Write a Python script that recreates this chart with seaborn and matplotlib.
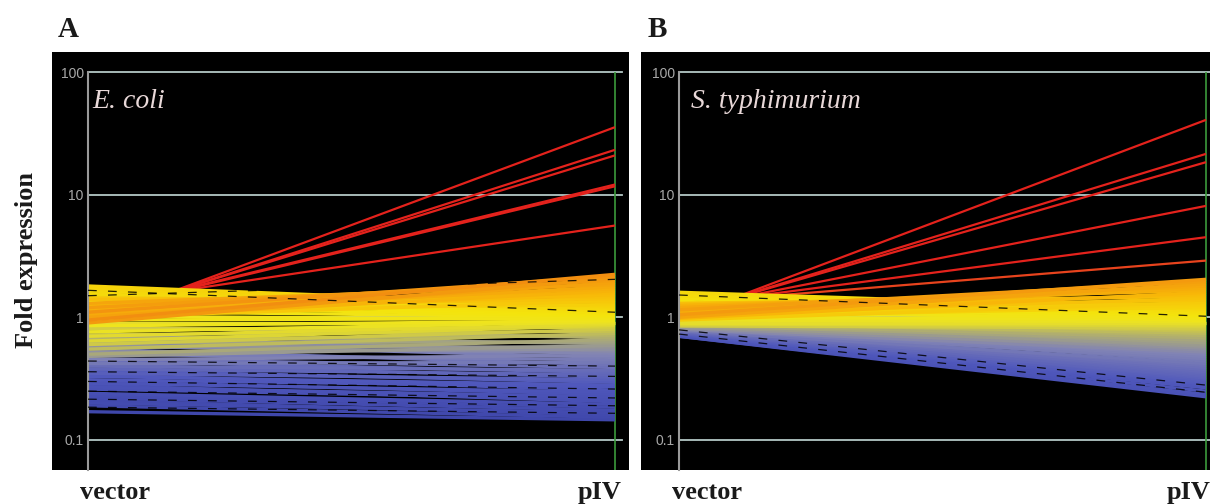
import matplotlib
matplotlib.use("Agg")
import matplotlib.pyplot as plt
from matplotlib.colors import LinearSegmentedColormap
from matplotlib.ticker import NullLocator
import numpy as np
import pandas as pd
import seaborn as sns

conditions = ["vector", "pIV"]
y_ticks = [0.1, 1, 10, 100]
y_tick_labels = ["0.1", "1", "10", "100"]

# Panel A - E. coli: fold expression at vector / pIV for each gene
a_start = [0.95, 1.1, 0.9, 1.2, 1.0, 1.3, 1.05, 1.15, 0.98, 1.25, 1.1, 1.4, 1.2, 1.0, 1.45, 1.15,
           1.8, 1.72, 1.64, 1.56, 1.76, 1.5, 1.42, 1.33, 1.22, 1.12, 0.95, 1.02, 0.85, 0.76, 0.9, 0.7, 0.64, 0.8,
           0.6, 0.72, 0.55, 0.66, 0.84, 0.5, 0.62, 0.7, 0.48, 0.58, 0.52, 0.67,
           0.58, 0.45, 0.62, 0.5, 0.42, 0.55, 0.46, 0.4, 0.44, 0.38, 0.41, 0.35, 0.37, 0.33,
           0.31, 0.34, 0.29, 0.3, 0.27, 0.26, 0.28, 0.24, 0.23, 0.22, 0.2, 0.21, 0.19, 0.17]
a_end = [2.24, 2.16, 2.08, 2.0, 1.92, 1.85, 1.78, 1.71, 1.65, 1.59, 1.53, 1.47, 1.42, 1.37, 1.32, 1.27,
         1.23, 1.2, 1.17, 1.14, 1.11, 1.08, 1.06, 1.04, 1.02, 1.0, 0.98, 0.96, 0.94, 0.92, 0.9, 0.88, 0.86, 0.83,
         0.8, 0.77, 0.74, 0.71, 0.68, 0.66, 0.63, 0.61, 0.59, 0.57, 0.55, 0.53,
         0.51, 0.49, 0.47, 0.45, 0.43, 0.41, 0.39, 0.37, 0.355, 0.34, 0.325, 0.31, 0.295, 0.28,
         0.27, 0.255, 0.245, 0.235, 0.225, 0.215, 0.205, 0.195, 0.185, 0.175, 0.167, 0.16, 0.153, 0.146]
a_red_start = [0.90, 0.97, 0.99, 1.10, 1.09, 1.27]
a_red_end = [35.5, 23.2, 20.9, 12.1, 11.7, 5.6]
a_dark_start = [1.66, 1.5, 0.44, 0.36, 0.3, 0.25, 0.215, 0.185]
a_dark_end = [1.1, 2.04, 0.4, 0.33, 0.26, 0.22, 0.19, 0.165]

# Panel B - S. typhimurium
b_start = [1.05, 1.15, 1.0, 1.2, 1.1, 1.25, 0.98, 1.12, 1.3, 1.05, 1.18, 0.95, 1.22, 1.08, 1.0, 1.15,
           1.6, 1.5, 1.55, 1.42, 1.35, 1.45, 1.28, 1.2, 1.1, 1.0, 1.15, 0.95, 0.9, 1.05, 0.88, 0.92, 0.85, 0.9,
           0.95, 0.9, 0.92, 0.88, 0.86, 0.9, 0.84, 0.87, 0.82, 0.85, 0.8, 0.83,
           0.82, 0.8, 0.84, 0.78, 0.81, 0.79, 0.77, 0.8, 0.76, 0.78, 0.75,
           0.77, 0.74, 0.76, 0.73, 0.75, 0.72, 0.74, 0.72, 0.71, 0.7, 0.7]
b_end = [2.04, 1.96, 1.88, 1.8, 1.73, 1.66, 1.6, 1.54, 1.48, 1.43, 1.38, 1.33, 1.29, 1.25, 1.22, 1.19,
         1.16, 1.13, 1.1, 1.08, 1.06, 1.04, 1.02, 1.0, 0.98, 0.96, 0.94, 0.92, 0.9, 0.88, 0.86, 0.84, 0.82, 0.8,
         0.77, 0.74, 0.71, 0.68, 0.65, 0.62, 0.6, 0.58, 0.56, 0.54, 0.52, 0.5,
         0.48, 0.46, 0.44, 0.42, 0.405, 0.39, 0.375, 0.36, 0.35, 0.34, 0.33,
         0.32, 0.31, 0.3, 0.295, 0.29, 0.285, 0.275, 0.266, 0.25, 0.235, 0.225]
b_red_start = [0.975, 1.045, 1.06, 1.16, 1.24, 1.30]
b_red_end = [40.7, 21.5, 18.4, 8.1, 4.5, 2.9]
b_dark_start = [1.52, 0.79, 0.73]
b_dark_end = [1.02, 0.28, 0.245]

# GeneSpring-like colouring by the pIV value (log10)
cmap = LinearSegmentedColormap.from_list("fold", [
    (0.0, "#3c44a8"), (0.2333, "#5058bc"), (0.4, "#8284b4"), (0.5, "#b4b26a"),
    (0.58, "#eee420"), (0.6133, "#f4e40c"), (0.7333, "#f8b808"), (0.8333, "#f29010"),
    (0.9133, "#e8401e"), (1.0, "#e4221c")])
norm = (-0.9, 0.6)


def to_long(starts, ends):
    rows = []
    for i, (s, e) in enumerate(zip(starts, ends)):
        tone = np.log10(e)
        rows.append({"gene": i, "cond": 0, "fold": s, "tone": tone})
        rows.append({"gene": i, "cond": 1, "fold": e, "tone": tone})
    return pd.DataFrame(rows)


def draw_panel(ax, band, red, dark, xmax, species, sp_x):
    ax.set_yscale("log")
    ax.set_facecolor("none")
    for v in y_ticks:
        ax.axhline(v, color="#b4c8c6", lw=1.3, zorder=0.5, clip_on=False)
    ax.axvline(1, color="#3c9a3c", lw=1.2, zorder=0.6)
    sns.lineplot(data=red, x="cond", y="fold", units="gene", estimator=None, hue="tone",
                 palette=cmap, hue_norm=norm, legend=False, lw=1.6, ax=ax, zorder=1,
                 solid_capstyle="butt")
    sns.lineplot(data=band, x="cond", y="fold", units="gene", estimator=None, hue="tone",
                 palette=cmap, hue_norm=norm, legend=False, lw=2.4, ax=ax, zorder=2,
                 solid_capstyle="butt")
    sns.lineplot(data=dark, x="cond", y="fold", units="gene", estimator=None, color="black",
                 lw=0.9, linestyle=(0, (7, 9)), ax=ax, zorder=3, alpha=0.85)
    ax.set_xlim(0, xmax)
    ax.set_ylim(0.0569, 100)
    ax.set_xlabel("")
    ax.set_ylabel("")
    ax.set_xticks([])
    ax.set_yticks(y_ticks)
    ax.set_yticklabels(y_tick_labels)
    ax.yaxis.set_minor_locator(NullLocator())
    ax.tick_params(axis="y", length=0, pad=3, labelcolor="#a8a8a8", labelsize=10)
    for lab in ax.get_yticklabels():
        lab.set_family("Liberation Sans")
    for side in ["top", "right", "bottom"]:
        ax.spines[side].set_visible(False)
    ax.spines["left"].set_color("#9a9a9a")
    ax.spines["left"].set_linewidth(1.5)
    ax.text(sp_x, 0.9095, species, transform=ax.transAxes, color="#e8d8d8", fontsize=20,
            style="italic", family="Liberation Serif", va="baseline")


fig = plt.figure(figsize=(12.1, 5.04), dpi=100)

# black panel backgrounds
for left, width in [(52 / 1210, 577 / 1210), (641 / 1210, 569 / 1210)]:
    bg = fig.add_axes([left, 34 / 504, width, 418 / 504])
    bg.set_facecolor("black")
    bg.set_xticks([])
    bg.set_yticks([])
    for s in bg.spines.values():
        s.set_visible(False)

ax_a = fig.add_axes([88 / 1210, 34 / 504, 534 / 1210, 398 / 504])
ax_b = fig.add_axes([679 / 1210, 34 / 504, 531 / 1210, 398 / 504])

draw_panel(ax_a, to_long(a_start, a_end), to_long(a_red_start, a_red_end),
           to_long(a_dark_start, a_dark_end), 534 / 527, "E. coli", 4 / 534)
draw_panel(ax_b, to_long(b_start, b_end), to_long(b_red_start, b_red_end),
           to_long(b_dark_start, b_dark_end), 531 / 527, "S. typhimurium", 12 / 531)

serif_bold = dict(family="Liberation Serif", weight="bold", color="#1a1a1a")
fig.text(58 / 1210, 1 - 37 / 504, "A", fontsize=21, va="baseline", **serif_bold)
fig.text(648 / 1210, 1 - 37 / 504, "B", fontsize=21, va="baseline", **serif_bold)
fig.text(27 / 1210, 1 - 260 / 504, "Fold expression", fontsize=19, rotation=90,
         ha="center", va="center", **serif_bold)
fig.text(80 / 1210, 1 - 499 / 504, conditions[0], fontsize=19, va="baseline", **serif_bold)
fig.text(622 / 1210, 1 - 499 / 504, conditions[1], fontsize=19, ha="right", va="baseline", **serif_bold)
fig.text(672 / 1210, 1 - 499 / 504, conditions[0], fontsize=19, va="baseline", **serif_bold)
fig.text(1167 / 1210, 1 - 499 / 504, conditions[1], fontsize=19, va="baseline", **serif_bold)

fig.savefig("out.png", dpi=100)
